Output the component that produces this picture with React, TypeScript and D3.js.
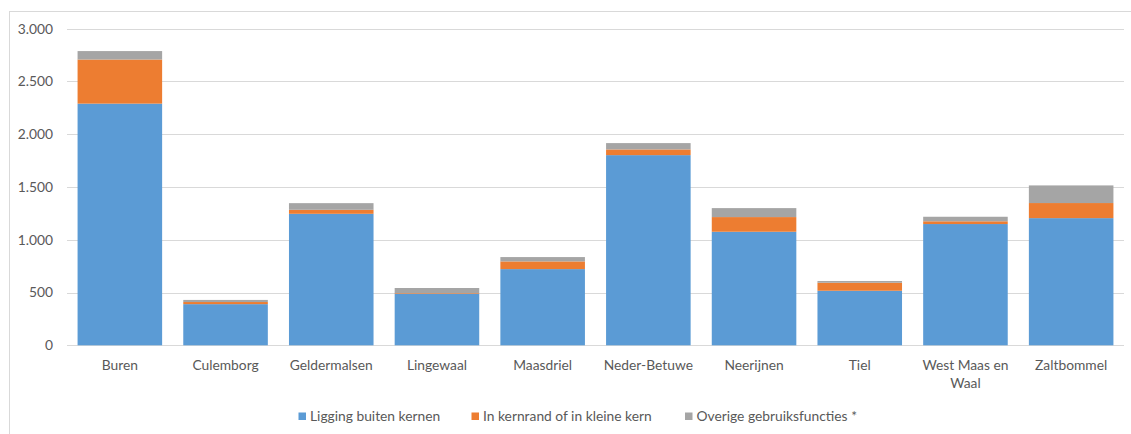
import React, { useEffect, useRef } from "react";
import * as d3 from "d3";

const categories = ["Buren", "Culemborg", "Geldermalsen", "Lingewaal", "Maasdriel", "Neder-Betuwe", "Neerijnen", "Tiel", "West Maas en Waal", "Zaltbommel"];
const seriesNames = ["Ligging buiten kernen", "In kernrand of in kleine kern", "Overige gebruiksfuncties *"];
const buiten = [2290, 390, 1246, 489, 722, 1802, 1076, 517, 1149, 1205];
const kernrand = [418, 20, 38, 6, 73, 54, 139, 76, 26, 143];
const overige = [80, 20, 63, 48, 41, 60, 85, 16, 43, 167];
const yTicks = [0, 500, 1000, 1500, 2000, 2500, 3000];
const colors = ["#5B9BD5", "#ED7D31", "#A5A5A5"];

const W = 1131;
const H = 434;
const FONT = "Lato, 'Open Sans', sans-serif";
const FS = 13.8;

export default function App() {
  const ref = useRef<SVGSVGElement | null>(null);

  useEffect(() => {
    const svg = d3.select(ref.current);
    svg.selectAll("*").remove();

    const left = 67, right = 1124, top = 28.7, bottom = 345.3;
    const x = d3.scaleBand<string>().domain(categories).range([left, right]).paddingInner(0.2).paddingOuter(0.1);
    const y = d3.scaleLinear().domain([0, 3000]).range([bottom, top]);
    const nl = d3.formatLocale({ decimal: ",", thousands: ".", grouping: [3], currency: ["€", ""] });
    const fmt = nl.format(",");

    // chart border
    svg.append("rect").attr("x", 9.5).attr("y", 11.5).attr("width", W).attr("height", H).attr("fill", "none").attr("stroke", "#D9D9D9").attr("stroke-width", 1);

    // gridlines
    svg.append("g").selectAll("line").data(yTicks).join("line")
      .attr("x1", left).attr("x2", right)
      .attr("y1", (d) => Math.round(y(d)) + 0.5).attr("y2", (d) => Math.round(y(d)) + 0.5)
      .attr("stroke", "#D9D9D9").attr("stroke-width", 1);

    // y labels
    svg.append("g").selectAll("text").data(yTicks).join("text")
      .attr("x", 53).attr("y", (d) => y(d)).attr("dy", "0.35em")
      .attr("text-anchor", "end").attr("font-family", FONT).attr("font-size", FS).attr("fill", "#595959")
      .text((d) => fmt(d));

    // stacked bars
    const rows = categories.map((c, i) => ({ cat: c, a: buiten[i], b: kernrand[i], c: overige[i] }));
    const stack = d3.stack<any>().keys(["a", "b", "c"]);
    const stacked = stack(rows);
    stacked.forEach((s, si) => {
      svg.append("g").selectAll("rect").data(s).join("rect")
        .attr("x", (d: any) => x(d.data.cat)!)
        .attr("width", x.bandwidth())
        .attr("y", (d: any) => y(d[1]))
        .attr("height", (d: any) => y(d[0]) - y(d[1]))
        .attr("fill", colors[si]);
    });

    // x labels with wrapping
    const xl = svg.append("g");
    const maxW = x.step();
    categories.forEach((c) => {
      const cx = x(c)! + x.bandwidth() / 2;
      const t = xl.append("text")
        .attr("x", cx).attr("y", 369.5)
        .attr("text-anchor", "middle").attr("font-family", FONT).attr("font-size", FS).attr("fill", "#595959");
      const words = c.split(" ");
      let line: string[] = [];
      let tspan = t.append("tspan").attr("x", cx).attr("dy", 0);
      words.forEach((w) => {
        line.push(w);
        tspan.text(line.join(" "));
        const node = tspan.node() as SVGTSpanElement;
        if (node.getComputedTextLength() > maxW && line.length > 1) {
          line.pop();
          tspan.text(line.join(" "));
          line = [w];
          tspan = t.append("tspan").attr("x", cx).attr("dy", 18).text(w);
        }
      });
    });

    // legend
    const legendX = [298.5, 471.5, 685];
    const lg = svg.append("g");
    seriesNames.forEach((n, i) => {
      lg.append("rect").attr("x", legendX[i]).attr("y", 412.5).attr("width", 7.5).attr("height", 7.5).attr("fill", colors[i]);
      lg.append("text").attr("x", legendX[i] + 11.5).attr("y", 421)
        .attr("font-family", FONT).attr("font-size", FS).attr("fill", "#595959").text(n);
    });
  }, []);

  return (
    <svg ref={ref} width={W} height={H} style={{ position: "absolute", left: 0, top: 0, background: "#fff" }} />
  );
}
